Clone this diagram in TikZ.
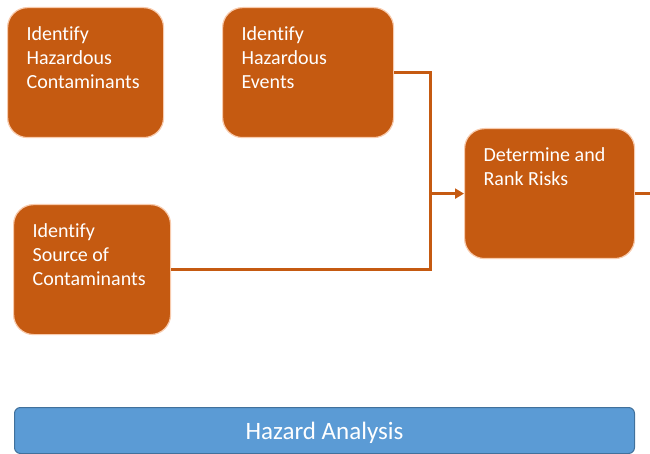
\documentclass[tikz,border=0pt]{standalone}
\usepackage{fontspec}
\setmainfont{Carlito}[Ligatures={NoCommon}]
\usetikzlibrary{arrows.meta}
\definecolor{rust}{HTML}{C55A11}
\definecolor{peach}{HTML}{F8CBAD}
\definecolor{barblue}{HTML}{5B9BD5}
\definecolor{barline}{HTML}{41719C}
% content of a step box: fixed-size top-aligned paragraph
\newcommand{\steptext}[2]{\parbox[c][92pt][t]{#1}{\raggedright #2}}
\tikzset{
  stepbox/.style={rectangle, rounded corners=20pt, fill=rust, draw=peach,
    line width=1.2pt, text=white, anchor=north west, inner xsep=19pt,
    inner ysep=19pt, font=\fontsize{20}{24}\selectfont},
  conn/.style={draw=rust, line width=3pt},
  barbox/.style={rectangle, rounded corners=6pt, fill=barblue, draw=barline,
    line width=1pt, text=white, anchor=north west, minimum width=620pt,
    minimum height=46pt, inner sep=0pt, font=\fontsize{25}{30}\selectfont}
}
\begin{document}
\begin{tikzpicture}[x=1pt,y=-1pt]
\useasboundingbox (0,0) rectangle (650,454);

\node[stepbox] (haz) at (7,7) {\steptext{118pt}{Identify\\Hazardous\\Contaminants}};
\node[stepbox] (evt) at (222,7) {\steptext{133pt}{Identify\\Hazardous\\Events}};
\node[stepbox] (src) at (13,204) {\steptext{119pt}{Identify\\Source of\\Contaminants}};
\node[stepbox] (risk) at (464,128) {\steptext{132pt}{Determine and\\Rank Risks}};

\node[barbox] (bar) at (14,407) {\smash{\raisebox{-9pt}{Hazard Analysis}}};

% collecting line and its exits
\coordinate (bus) at (430,0);
\coordinate (edge) at (650,0);
\draw[conn] (evt.east) -| (bus |- src.east) -- (src.east);
\draw[conn, -{Triangle[length=9pt,width=10pt]}] (bus |- risk.west) -- (risk.west);
\draw[conn] (risk.east) -- (risk.east -| edge);
\end{tikzpicture}
\end{document}
